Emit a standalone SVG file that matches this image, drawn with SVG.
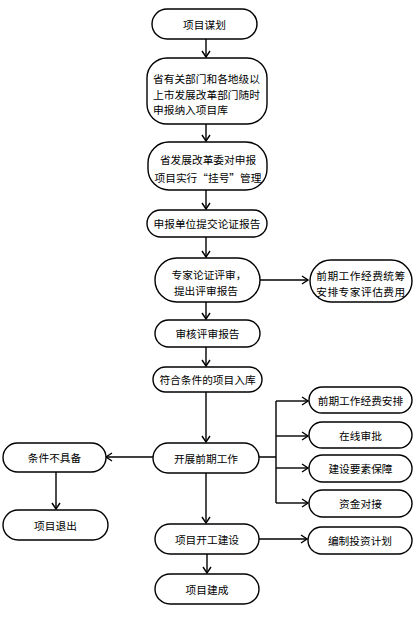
<svg xmlns="http://www.w3.org/2000/svg" width="417" height="617" viewBox="0 0 417 617">
<defs>
<marker id="arr" markerUnits="userSpaceOnUse" markerWidth="10" markerHeight="10" viewBox="-8 -5 10 10" refX="0" refY="0" orient="auto">
<path d="M-6,-4 L0,0 L-6,4" fill="none" stroke="#000" stroke-width="1.4"/>
</marker>
</defs>
<style>
.n rect{fill:#fff;stroke:#000;stroke-width:1.4}
.n text{font-family:"Noto Sans CJK SC","Noto Sans",sans-serif;font-size:10.7px;fill:#000;text-anchor:middle;dominant-baseline:central}
.c path{fill:none;stroke:#000;stroke-width:1.4}
.c .a{marker-end:url(#arr)}
</style>
<rect width="417" height="617" fill="#fff"/>
<g class="c" id="connectors">
<path class="a" d="M206,39 V57"/>
<path class="a" d="M206,124 V141"/>
<path class="a" d="M206,190 V209"/>
<path class="a" d="M206,237 V257"/>
<path class="a" d="M260,280 H308"/>
<path class="a" d="M206,302 V319"/>
<path class="a" d="M206,347 V366"/>
<path class="a" d="M206,392 V442"/>
<path class="a" d="M153,457 H106"/>
<path class="a" d="M56,472 V509"/>
<path d="M259,457 H276 M276,401 V503"/>
<path class="a" d="M276,401 H308"/>
<path class="a" d="M276,436 H308"/>
<path class="a" d="M276,468 H308"/>
<path class="a" d="M276,503 H308"/>
<path class="a" d="M206,473 V523"/>
<path class="a" d="M259,539 H307"/>
<path class="a" d="M207,554 V573"/>
</g>
<g class="n" id="n1"><rect x="152" y="9" width="105" height="30" rx="15"/><text x="204.5" y="24">项目谋划</text></g>
<g class="n" id="n2"><rect x="147" y="58" width="120" height="66" rx="20"/>
<text x="206.5" y="78">省有关部门和各地级以</text>
<text x="206.5" y="94">上市发展改革部门随时</text>
<text x="153" y="109" style="text-anchor:start">申报纳入项目库</text></g>
<g class="n" id="n3"><rect x="148" y="142" width="119" height="48" rx="21"/>
<text x="208" y="159">省发展改革委对申报</text>
<text x="208" y="177">项目实行“挂号”管理</text></g>
<g class="n" id="n4"><rect x="147" y="210" width="120" height="27" rx="13.5"/><text x="207" y="223.5">申报单位提交论证报告</text></g>
<g class="n" id="n5"><rect x="155" y="258" width="105" height="44" rx="22"/>
<text x="209" y="274">专家论证评审，</text>
<text x="206" y="290">提出评审报告</text></g>
<g class="n" id="n6"><rect x="310" y="260" width="102" height="42" rx="21"/>
<text x="361" y="275" style="letter-spacing:0.5px">前期工作经费统筹</text>
<text x="361" y="291" style="letter-spacing:0.5px">安排专家评估费用</text></g>
<g class="n" id="n7"><rect x="155" y="320" width="105" height="27" rx="13.5"/><text x="207.5" y="333.5">审核评审报告</text></g>
<g class="n" id="n8"><rect x="153" y="367" width="109" height="25" rx="12.5"/><text x="207.5" y="379.5">符合条件的项目入库</text></g>
<g class="n" id="n9"><rect x="153" y="443" width="106" height="30" rx="15"/><text x="206" y="458">开展前期工作</text></g>
<g class="n" id="n10"><rect x="3" y="443" width="103" height="29" rx="14.5"/><text x="54.5" y="457.5">条件不具备</text></g>
<g class="n" id="n11"><rect x="3" y="510" width="105" height="30" rx="15"/><text x="55.5" y="525">项目退出</text></g>
<g class="n" id="n12"><rect x="309" y="387" width="103" height="26" rx="13"/><text x="360.5" y="400">前期工作经费安排</text></g>
<g class="n" id="n13"><rect x="309" y="422" width="103" height="26" rx="13"/><text x="360.5" y="435">在线审批</text></g>
<g class="n" id="n14"><rect x="309" y="455" width="103" height="27" rx="13.5"/><text x="360.5" y="468.5">建设要素保障</text></g>
<g class="n" id="n15"><rect x="309" y="490" width="103" height="27" rx="13.5"/><text x="360.5" y="503.5">资金对接</text></g>
<g class="n" id="n16"><rect x="155" y="524" width="104" height="30" rx="15"/><text x="207" y="539">项目开工建设</text></g>
<g class="n" id="n17"><rect x="308" y="527" width="104" height="27" rx="13.5"/><text x="360" y="540.5">编制投资计划</text></g>
<g class="n" id="n18"><rect x="155" y="574" width="104" height="30" rx="15"/><text x="207" y="589">项目建成</text></g>
</svg>
